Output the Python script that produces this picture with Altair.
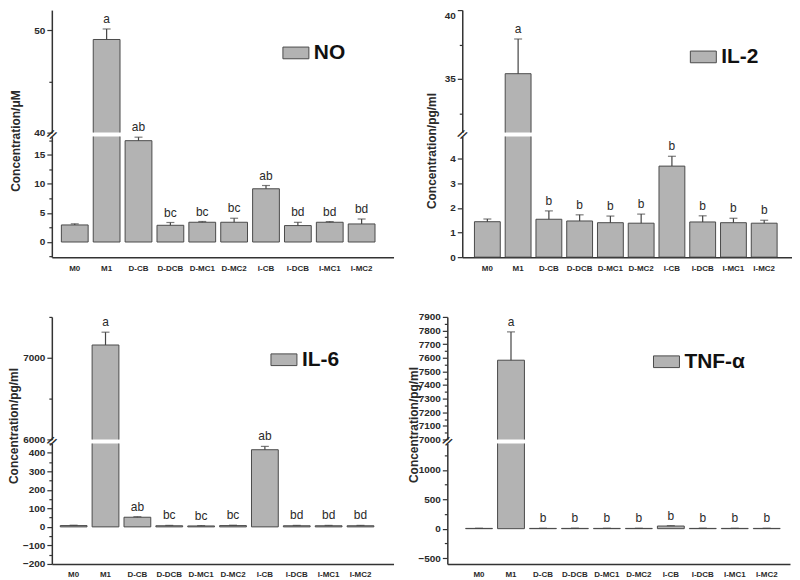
import altair as alt
import pandas as pd

FONT = "Liberation Sans, Arial, sans-serif"

categories = ["M0", "M1", "D-CB", "D-DCB", "D-MC1", "D-MC2", "I-CB", "I-DCB", "I-MC1", "I-MC2"]

# NO (uM)
no_mean = [2.93, 49.12, 17.4, 2.87, 3.39, 3.39, 9.14, 2.82, 3.39, 3.10]
no_top = [3.12, 50.15, 18.0, 3.35, 3.52, 4.08, 9.70, 3.38, 3.50, 3.95]
no_letters = ["", "a", "ab", "bc", "bc", "bc", "ab", "bd", "bd", "bd"]

# IL-2 (pg/ml)
il2_mean = [1.44, 35.38, 1.54, 1.47, 1.40, 1.38, 3.70, 1.43, 1.40, 1.38]
il2_top = [1.55, 37.90, 1.88, 1.72, 1.67, 1.75, 4.10, 1.68, 1.58, 1.50]
il2_letters = ["", "a", "b", "b", "b", "b", "b", "b", "b", "b"]

# IL-6 (pg/ml)
il6_mean = [7, 7156, 52, 6, 5, 7, 416, 6, 6, 6]
il6_top = [9, 7313, 55, 8, 7, 9, 434, 8, 8, 8]
il6_letters = ["", "a", "ab", "bc", "bc", "bc", "ab", "bd", "bd", "bd"]

# TNF-alpha (pg/ml)
tnf_mean = [5, 7582, 5, 5, 5, 5, 45, 5, 5, 5]
tnf_top = [8, 7790, 8, 8, 8, 8, 52, 8, 8, 8]
tnf_letters = ["", "a", "b", "b", "b", "b", "b", "b", "b", "b"]

BAR_FILL = "#b3b3b3"
BAR_STROKE = "#4a4a4a"
INK = "#2a2a2a"
UPPER_H = 123
LOWER_H = 121


def frange(a, b, step):
    out = []
    v = a
    while v <= b + 1e-9:
        out.append(round(v, 6))
        v += step
    return out


def y_axis(values, major, title=None, title_x=None, title_y=None, flush=False):
    test = f"abs(datum.value % {major}) < 1e-6"
    kw = dict(
        values=values,
        tickCount=200,
        format="d",
        labelExpr=f"{test} ? datum.label : ''",
        labelOverlap=False,
        labelFlush=flush,
        tickSize={"condition": {"test": test, "value": 5}, "value": 3},
        grid=False,
    )
    if title:
        kw.update(title=title, titleX=title_x, titleY=title_y, titleBaseline="middle",
                  titleAngle=-90, titleAlign="center")
    else:
        kw.update(title=None)
    return alt.Axis(**kw)


def panel(name, ytitle, mean, top, letters, upper_dom, lower_dom, upper_from, upper_step,
          upper_major, lower_from, lower_step, lower_major, width, align, lx, ly, tx, ty,
          flush=False):
    df = pd.DataFrame({"cat": categories, "mean": mean, "top": top,
                       "letter": letters, "series": name})
    up = df[df["mean"] > lower_dom[1]]
    lo = df[df["mean"] <= lower_dom[1]]

    xscale = alt.Scale(domain=categories, paddingInner=0.16, paddingOuter=0.44, align=align)
    upper_ticks = frange(upper_from, upper_dom[1], upper_step)
    lower_ticks = frange(lower_from, lower_dom[1], lower_step)

    yu = alt.Scale(domain=upper_dom, nice=False, zero=False)
    yl = alt.Scale(domain=lower_dom, nice=False, zero=False)

    xu = alt.X("cat:N", scale=xscale, axis=None)
    xl = alt.X("cat:N", scale=xscale,
               axis=alt.Axis(title=None, labelAngle=0, ticks=False, labelPadding=7,
                             labelFontSize=8, labelFontWeight="bold", labelColor=INK))

    # upper segment
    ubar = alt.Chart(df).mark_bar(clip=True, stroke=BAR_STROKE, strokeWidth=1).encode(
        x=xu,
        y=alt.Y("mean:Q", scale=yu,
                axis=y_axis(upper_ticks, upper_major, ytitle, tx, ty, flush)),
        y2=alt.datum(0),
        color=alt.Color("series:N",
                        scale=alt.Scale(domain=[name], range=[BAR_FILL]),
                        legend=alt.Legend(title=None, orient="none", legendX=lx, legendY=ly,
                                          padding=0,
                                          symbolType="M-1,-0.45H1V0.45H-1Z", symbolSize=680,
                                          symbolStrokeColor=BAR_STROKE, symbolStrokeWidth=1,
                                          symbolFillColor=BAR_FILL,
                                          labelFontSize=21, labelFontWeight="bold",
                                          labelFont=FONT, labelColor="#111",
                                          labelOffset=4)),
    )
    uerr = alt.Chart(up).mark_rule(color="#444", strokeWidth=1.2).encode(
        x=xu, y=alt.Y("mean:Q", scale=yu), y2="top:Q")
    ucap = alt.Chart(up).mark_tick(color="#444", size=8, thickness=1.2,
                                   orient="horizontal").encode(
        x=xu, y=alt.Y("top:Q", scale=yu))
    utxt = alt.Chart(up).mark_text(dy=-3, baseline="bottom", fontSize=12, color=INK,
                                   font=FONT).encode(
        x=xu, y=alt.Y("top:Q", scale=yu), text="letter:N")
    brk = alt.Chart(pd.DataFrame({"d": [0]})).mark_text(
        text="//", fontSize=12, fontWeight="bold", color=INK, angle=35, font=FONT
    ).encode(x=alt.value(0), y=alt.value(UPPER_H + 2))
    upper = alt.layer(ubar, uerr, ucap, utxt, brk).properties(width=width, height=UPPER_H)

    # lower segment
    lbar = alt.Chart(df).mark_bar(clip=True, color=BAR_FILL, stroke=BAR_STROKE,
                                  strokeWidth=1).encode(
        x=xl,
        y=alt.Y("mean:Q", scale=yl, axis=y_axis(lower_ticks, lower_major)),
        y2=alt.datum(0),
    )
    lerr = alt.Chart(lo).mark_rule(color="#444", strokeWidth=1.2).encode(
        x=xl, y=alt.Y("mean:Q", scale=yl), y2="top:Q")
    lcap = alt.Chart(lo).mark_tick(color="#444", size=8, thickness=1.2,
                                   orient="horizontal").encode(
        x=xl, y=alt.Y("top:Q", scale=yl))
    ltxt = alt.Chart(lo).mark_text(dy=-3, baseline="bottom", fontSize=12, color=INK,
                                   font=FONT).encode(
        x=xl, y=alt.Y("top:Q", scale=yl), text="letter:N")
    lower = alt.layer(lbar, lerr, lcap, ltxt).properties(width=width, height=LOWER_H)

    return alt.vconcat(upper, lower, spacing=4, bounds="flush").resolve_scale(
        y="independent", x="independent", color="independent")


p1 = panel("NO", "Concentration/\u03bcM", no_mean, no_top, no_letters,
           [40, 52], [-2.6, 18.1], 40, 5, 10, -2.5, 2.5, 5,
           343, 0.34, 231, 29, -36, 131)
p2 = panel("IL-2", "Concentration/pg/ml", il2_mean, il2_top, il2_letters,
           [31.1, 40], [0, 4.9], 32.5, 2.5, 5, 0, 0.5, 1,
           331, 0.45, 228, 33, -31, 141, flush=True)
p3 = panel("IL-6", "Concentration/pg/ml", il6_mean, il6_top, il6_letters,
           [6000, 7500], [-200, 450], 6000, 500, 1000, -200, 50, 100,
           343, 0.30, 219, 29, -38, 109)
p4 = panel("TNF-\u03b1", "Concentration/pg/ml", tnf_mean, tnf_top, tnf_letters,
           [7000, 7900], [-600, 1450], 7000, 50, 100, -500, 250, 500,
           344, 0.65, 206, 31, -34, 108)

row1 = alt.hconcat(p1, p2, spacing=32).resolve_scale(
    x="independent", y="independent", color="independent")
row2 = alt.hconcat(p3, p4, spacing=14).resolve_scale(
    x="independent", y="independent", color="independent")

chart = alt.vconcat(row1, row2, spacing=40).resolve_scale(
    x="independent", y="independent", color="independent"
).properties(padding=0, background="white").configure_view(stroke=None).configure_axis(
    labelFont=FONT, titleFont=FONT, labelFontSize=10, labelFontWeight="bold",
    labelColor=INK, titleFontSize=12, titleFontWeight="bold", titleColor=INK,
    domainColor="#333", domainWidth=1.5, tickColor="#333", tickWidth=1.2, grid=False
)

chart.save("out.html", embed_options={"renderer": "svg", "actions": False})
